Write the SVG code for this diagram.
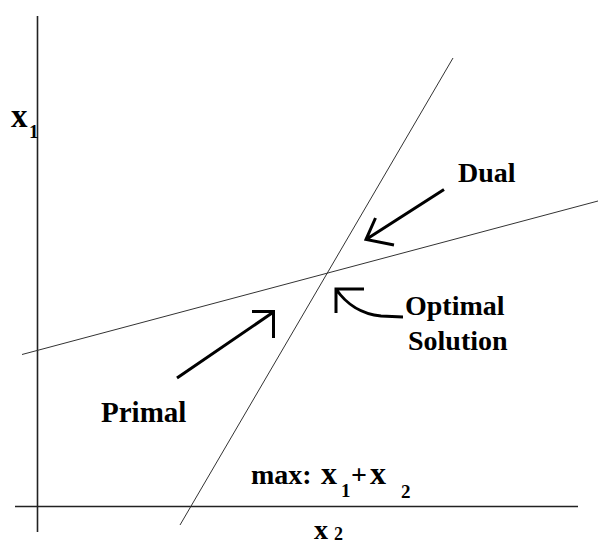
<svg xmlns="http://www.w3.org/2000/svg" width="598" height="545" viewBox="0 0 598 545">
<style>
.lbl{font-family:"Liberation Serif","Times New Roman",serif;font-weight:bold;fill:#000;}
.axis{stroke:#222;stroke-width:1.6;fill:none;}
.cons{stroke:#333;stroke-width:1;fill:none;}
.arr{stroke:#000;stroke-width:3;fill:none;stroke-linecap:butt;stroke-linejoin:miter;}
</style>
<rect width="598" height="545" fill="#fff"/>
<g id="axes">
<line class="axis" x1="37.5" y1="16" x2="37.5" y2="532"/>
<line class="axis" x1="15" y1="506.5" x2="578" y2="506.5"/>
</g>
<g id="constraints">
<line id="primal-line" class="cons" x1="453" y1="58" x2="180" y2="525"/>
<line id="dual-line" class="cons" x1="22" y1="354.5" x2="598" y2="201"/>
</g>
<g id="x1-label"><text class="lbl" x="11" y="127" font-size="33">x</text><text class="lbl" x="29" y="138" font-size="19">1</text></g>
<g id="x2-label"><text class="lbl" x="314" y="539" font-size="28">x</text><text class="lbl" x="334" y="540" font-size="18">2</text></g>
<g id="dual-label"><text class="lbl" x="458" y="182" font-size="28">Dual</text></g>
<g id="optimal-label"><text class="lbl" x="405" y="315" font-size="28">Optimal</text><text class="lbl" x="408" y="350" font-size="28">Solution</text></g>
<g id="primal-label"><text class="lbl" x="101" y="422" font-size="29">Primal</text></g>
<g id="objective-label"><text class="lbl" x="251" y="484" font-size="28">max:</text><text class="lbl" x="321" y="484" font-size="32">x</text><text class="lbl" x="341" y="497" font-size="19">1</text><text class="lbl" x="351" y="484" font-size="28">+</text><text class="lbl" x="370" y="484" font-size="32">x</text><text class="lbl" x="401" y="498" font-size="19">2</text></g>
<g id="connectors">
<path class="arr" d="M444,189.5 L366,239.5 M375.5,218 L366,239.5 L394,245"/>
<path class="arr" d="M403,317 L381,316 C362,314 346,304 336,289 M336,313 L336,289 L364,289"/>
<path class="arr" d="M177,378 L273.5,312 M252,311.5 L273.5,311.5 L273.5,338"/>
</g>
</svg>
